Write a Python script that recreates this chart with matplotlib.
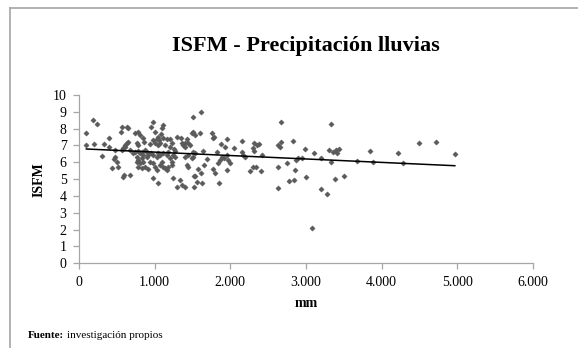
import numpy as np
import matplotlib
matplotlib.use("Agg")
import matplotlib.pyplot as plt
from matplotlib.lines import Line2D
from matplotlib.ticker import FuncFormatter

plt.rcParams['font.family'] = ['Liberation Serif', 'DejaVu Serif']

title = "ISFM - Precipitación lluvias"
x_label = "mm"
y_label = "ISFM"
source_bold = "Fuente:"
source_text = "investigación propios"

# precipitation (mm) and ISFM value of each observation
mm = [
    97, 185, 242, 97, 194, 330, 392, 392, 471, 304, 471, 462, 440, 515, 502,
    594, 577, 674, 564, 630, 651, 555, 604, 651, 630, 585, 608, 564, 674,
    982, 1114, 1100, 951, 1510, 784, 740, 806, 1004, 1083, 1048, 1510, 850,
    982, 1026, 1061, 1114, 1158, 1202, 1290, 1347, 1422, 1400, 762, 784, 859,
    938, 1004, 1048, 1070, 1136, 1224, 1202, 1268, 1255, 1356, 1378, 1444,
    1466, 1510, 717, 740, 784, 806, 828, 872, 894, 762, 784, 828, 850, 894,
    916, 951, 982, 1026, 1048, 1070, 1114, 1158, 1180, 1246, 1268, 1400,
    1444, 1488, 1510, 762, 806, 850, 784, 828, 872, 916, 938, 982, 1004,
    1026, 1070, 1092, 1114, 1136, 1158, 1180, 1224, 1224, 1202, 982, 1048,
    1246, 1290, 1334, 1356, 1400, 1422, 1444, 1519, 1519, 1400,
    1607, 2664, 1497, 1532, 1598, 1761, 1774, 1787, 1951, 2149, 2831, 2633,
    2669, 2655, 2312, 2347, 2378, 2294, 2312, 1872, 1929, 1827, 2048, 1634,
    1532, 1951, 1893, 1920, 1863, 1973, 1995, 2149, 2171, 2193, 2413, 1695,
    1840, 1774, 1797, 1951, 1651, 1576, 1607, 1532, 1563, 1620, 1853, 2259,
    2303, 2338, 2404, 2633, 2744, 2866, 2853, 2633, 2778, 2844,
    3325, 2986, 3108, 3197, 3303, 3360, 3391, 3435, 3404, 3325, 2950, 2897,
    2999, 3382, 3501, 3197, 3272, 3082, 3677, 3844, 3880, 4218, 4284, 4495,
    4716, 4967,
]
isfm = [
    7.72, 8.50, 8.30, 7.03, 7.09, 7.09, 7.43, 6.93, 6.73, 6.39, 6.33, 6.20, 5.68, 5.74, 6.00,
    5.25, 5.11, 5.23, 8.08, 8.12, 8.02, 7.78, 7.03, 7.23, 7.13, 6.83, 6.93, 6.73, 6.73,
    8.41, 8.22, 8.02, 8.12, 8.67, 7.82, 7.72, 7.62, 7.82, 7.68, 7.52, 7.82, 7.43,
    7.33, 7.37, 7.33, 7.43, 7.37, 7.37, 7.52, 7.43, 7.37, 7.17, 7.13, 7.03, 7.19,
    7.07, 7.13, 7.03, 7.13, 7.03, 7.13, 6.93, 6.67, 6.77, 7.13, 7.03, 7.17,
    7.03, 6.63, 6.53, 6.63, 6.67, 6.53, 6.63, 6.73, 6.63, 6.34, 6.14, 6.24, 6.43, 6.34,
    6.43, 6.53, 6.43, 6.34, 6.53, 6.43, 6.53, 6.43, 6.63, 6.43, 6.34, 6.34,
    6.43, 6.24, 6.34, 6.04, 5.94, 6.04, 5.74, 5.64, 5.74, 5.59, 6.04, 5.94, 5.74,
    5.54, 5.84, 6.04, 5.74, 5.64, 5.54, 5.74, 5.84, 6.04, 6.24, 5.05, 4.75,
    5.05, 4.55, 4.95, 4.65, 4.55, 5.84, 5.74, 5.19, 4.55, 6.93,
    8.97, 8.41, 7.76, 7.62, 7.72, 7.76, 7.43, 7.52, 7.37, 7.28, 7.27, 7.03,
    7.19, 6.93, 7.13, 7.03, 7.07, 6.83, 6.67, 7.07, 6.93, 6.63, 6.83, 6.67,
    6.57, 6.43, 6.34, 6.24, 6.14, 6.14, 5.94, 6.63, 6.43, 6.34, 6.43, 6.20,
    5.94, 5.60, 5.35, 5.54, 5.84, 5.60, 5.35, 5.19, 4.85, 4.75, 4.79, 5.50,
    5.74, 5.70, 5.50, 5.70, 5.98, 6.14, 5.54, 4.49, 4.89, 4.95,
    8.26, 6.77, 6.57, 6.24, 6.73, 6.63, 6.73, 6.77, 6.53, 6.00, 6.24, 6.24,
    5.15, 4.99, 5.19, 4.41, 4.12, 2.08, 6.08, 6.67, 6.00, 6.53, 5.94, 7.13,
    7.23, 6.49,
]

x_ticks = [0, 1000, 2000, 3000, 4000, 5000, 6000]
y_ticks = list(range(0, 11))

W, H = 578, 348
fig = plt.figure(figsize=(W / 100, H / 100), dpi=100)
fig.patch.set_facecolor("white")

ax = fig.add_axes([79 / W, 1 - 263.3 / H, (533 - 79) / W, (263.3 - 95) / H])

x = np.array(mm, dtype=float)
y = np.array(isfm, dtype=float)
ax.plot(x, y, linestyle="none", marker="D", markersize=2.7,
        color="#5a5a5a", markeredgewidth=0.3, markeredgecolor="#5a5a5a")

# linear trend over the observed range
slope, intercept = np.polyfit(x, y, 1)
xs = np.array([x.min(), x.max()])
ax.plot(xs, intercept + slope * xs, color="black", linewidth=1.1)

ax.set_xlim(0, 6000)
ax.set_ylim(0, 10)
ax.set_xticks(x_ticks)
ax.set_yticks(y_ticks)
ax.xaxis.set_major_formatter(FuncFormatter(lambda v, p: f"{int(v):,}".replace(",", ".")))

for side in ("top", "right"):
    ax.spines[side].set_visible(False)
for side in ("left", "bottom"):
    ax.spines[side].set_color("#A6A6A6")
    ax.spines[side].set_linewidth(0.9)
ax.tick_params(axis="both", direction="out", length=4, width=0.9, color="#A6A6A6",
               labelsize=10, labelcolor="black", pad=5)

ax.set_xlabel(x_label, fontsize=10, fontweight="bold", labelpad=6)
ax.set_ylabel(y_label, fontsize=10, fontweight="bold", labelpad=5)


def fit_width(txt, target_px):
    fig.canvas.draw()
    w = txt.get_window_extent().width
    txt.set_fontsize(txt.get_fontsize() * target_px / w)


ttl = fig.text(306 / W, 1 - 46 / H, title, ha="center", va="center",
               fontsize=14, fontweight="bold")
fit_width(ttl, 268)

src_size = 8.0
t1 = fig.text(28 / W, 1 - 335 / H, source_bold, ha="left", va="center",
              fontsize=src_size, fontweight="bold")
fig.canvas.draw()
bb = t1.get_window_extent()
fig.text((bb.x1 + 3) / W, 1 - 335 / H, source_text, ha="left", va="center",
         fontsize=src_size)

# chart frame
frame_color = "#A6A6A6"
fig.add_artist(Line2D([10 / W, 10 / W], [0, 1 - 8 / H], transform=fig.transFigure,
                      color=frame_color, linewidth=1.2))
fig.add_artist(Line2D([10 / W, 1], [1 - 8 / H, 1 - 8 / H], transform=fig.transFigure,
                      color=frame_color, linewidth=1.2))

fig.savefig("out.png", dpi=100)
